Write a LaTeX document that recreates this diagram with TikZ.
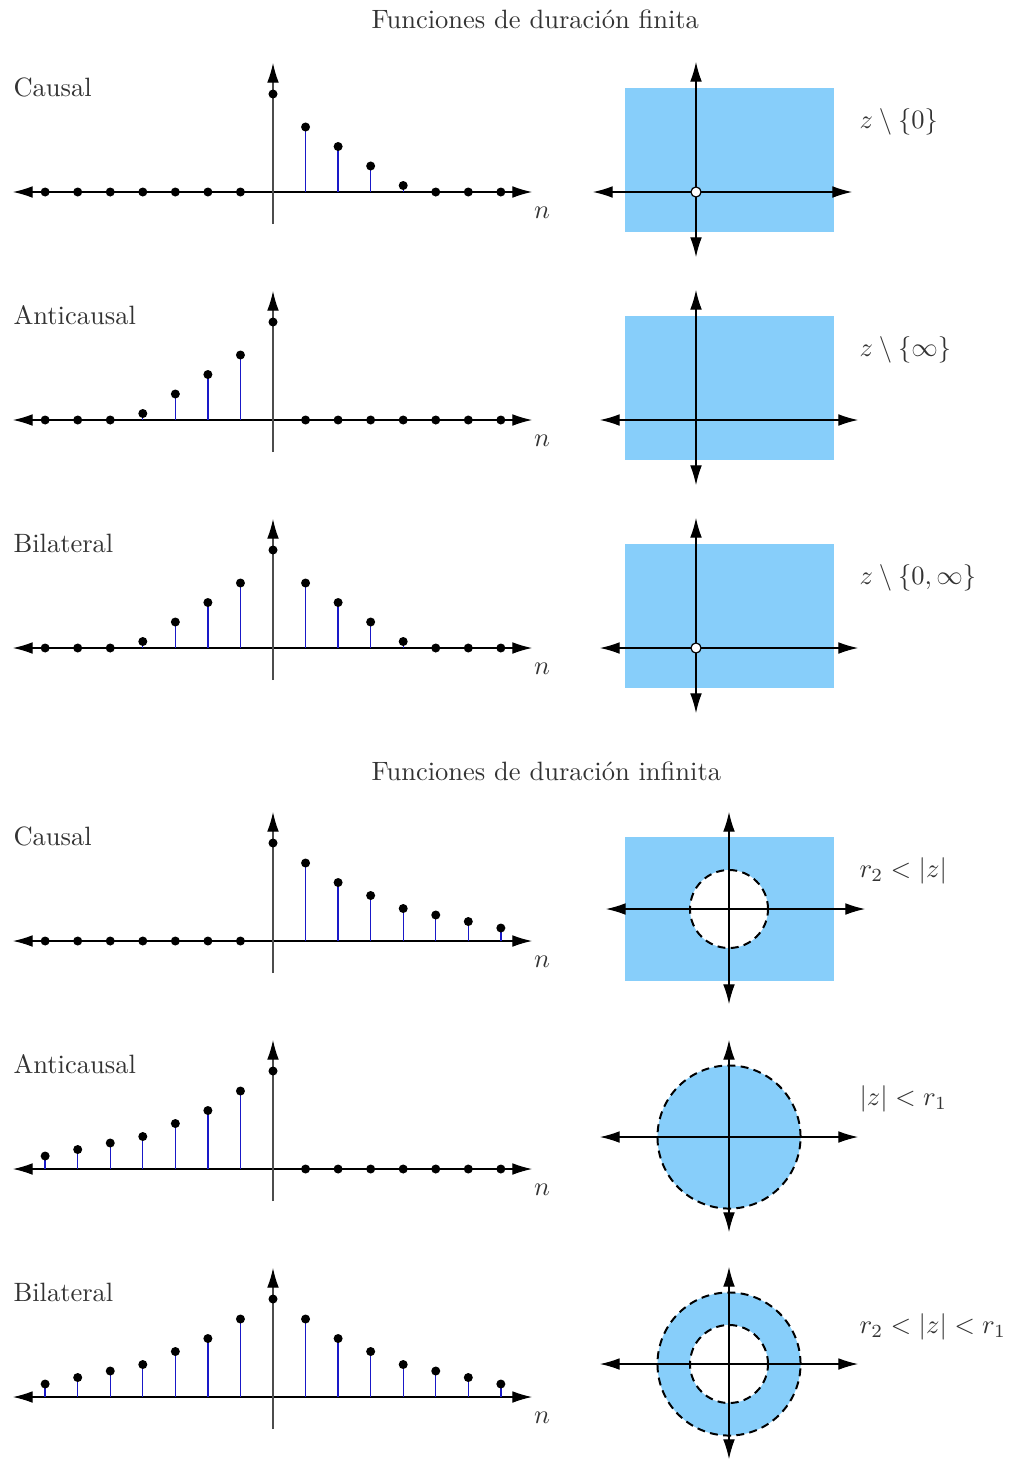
\documentclass[tikz,border=0pt]{standalone}
\usetikzlibrary{arrows.meta}
\definecolor{roc}{RGB}{135,206,250}
\definecolor{stemblue}{RGB}{25,25,200}
\definecolor{txt}{RGB}{51,51,51}
\tikzset{
  >={Latex[length=7.4pt,width=4.4pt,color=black]},
  lbl/.style={inner sep=0pt, text=txt, font=\normalsize},
  stemline/.style={draw=stemblue, line width=0.5pt},
  rocborder/.style={draw=black, line width=0.75pt, dash pattern=on 3pt off 2pt},
  zaxis/.style={<->, line width=0.4pt},
  dot/.style={fill=black},
}
\newcommand\mystemrow[4]{% #1 name, #2 axis y, #3 label, #4 values n=-7..7
  \node[lbl, anchor=west] (#1-lbl) at (13,#2-105) {#3};
  \coordinate (#1-o) at (273,#2);
  \draw[<->] (13,#2) -- (532,#2);
  \foreach \v [count=\i from -7] in {#4} {
    \ifnum\i=0\relax\else
      \ifdim\v pt>0pt \draw[stemline] (273+32.55*\i,#2) -- (273+32.55*\i,#2-\v); \fi
    \fi
  }
  \draw[->, draw=black!70, line width=0.45pt] (273,#2+32) -- (273,#2-129);
  \foreach \v [count=\i from -7] in {#4} {
    \fill[dot] (273+32.55*\i,#2-\v) circle[radius=1.7pt];
  }
  \node[lbl] (#1-n) at (542,#2+21) {$n$};
}
\begin{document}
\begin{tikzpicture}[x=0.3774pt,y=-0.3774pt]
\useasboundingbox (0,0) rectangle (1010,1460);

% titles
\node[lbl, anchor=west] (t1) at (371,19) {Funciones de duración finita};
\node[lbl, anchor=west] (t2) at (371,771) {Funciones de duración infinita};

% ---------- finite duration ----------
\mystemrow{fc}{192}{Causal}{0,0,0,0,0,0,0,98,65,45.5,26,6.5,0,0,0}
\mystemrow{fa}{420}{Anticausal}{0,0,0,6.5,26,45.5,65,98,0,0,0,0,0,0,0}
\mystemrow{fb}{648}{Bilateral}{0,0,0,6.5,26,45.5,65,98,65,45.5,26,6.5,0,0,0}

% z-plane 1
\fill[roc] (625,88) rectangle (834,232);
\draw[zaxis] (593,192) -- (852,192);
\draw[zaxis] (696,62) -- (696,257);
\draw[fill=white, line width=0.45pt] (696,192) circle[radius=1.9pt];
\node[lbl, anchor=west] (z1) at (859,121.5) {$z\setminus\{0\}$};

% z-plane 2
\fill[roc] (625,316) rectangle (834,460);
\draw[zaxis] (600,420) -- (858,420);
\draw[zaxis] (696,290) -- (696,485);
\node[lbl, anchor=west] (z2) at (859,349.5) {$z\setminus\{\infty\}$};

% z-plane 3
\fill[roc] (625,544) rectangle (834,688);
\draw[zaxis] (600,648) -- (858,648);
\draw[zaxis] (696,518) -- (696,713);
\draw[fill=white, line width=0.45pt] (696,648) circle[radius=1.9pt];
\node[lbl, anchor=west] (z3) at (859,577.5) {$z\setminus\{0,\infty\}$};

% ---------- infinite duration ----------
\mystemrow{ic}{941}{Causal}{0,0,0,0,0,0,0,98,78,58.5,45.5,32.5,26,19.5,13}
\mystemrow{ia}{1169}{Anticausal}{13,19.5,26,32.5,45.5,58.5,78,98,0,0,0,0,0,0,0}
\mystemrow{ib}{1397}{Bilateral}{13,19.5,26,32.5,45.5,58.5,78,98,78,58.5,45.5,32.5,26,19.5,13}

% z-plane 4 : r2 < |z|
\fill[roc] (625,837) rectangle (834,981);
\fill[white] (729,909) circle[radius=14.72pt];
\draw[zaxis] (606,909) -- (865,909);
\draw[zaxis] (729,812) -- (729,1004);
\draw[rocborder] (729,909) circle[radius=14.72pt];
\node[lbl, anchor=west] (z4) at (859,871) {$r_2<|z|$};

% z-plane 5 : |z| < r1
\fill[roc] (729,1137) circle[radius=27.0pt];
\draw[zaxis] (600,1137) -- (858,1137);
\draw[zaxis] (729,1040) -- (729,1232);
\draw[rocborder] (729,1137) circle[radius=27.0pt];
\node[lbl, anchor=west] (z5) at (859,1099) {$|z|<r_1$};

% z-plane 6 : r2 < |z| < r1
\fill[roc] (729,1364) circle[radius=27.0pt];
\fill[white] (729,1364) circle[radius=14.72pt];
\draw[zaxis] (600,1364) -- (858,1364);
\draw[zaxis] (729,1267) -- (729,1459);
\draw[rocborder] (729,1364) circle[radius=27.0pt];
\draw[rocborder] (729,1364) circle[radius=14.72pt];
\node[lbl, anchor=west] (z6) at (859,1327) {$r_2<|z|<r_1$};
\end{tikzpicture}
\end{document}
